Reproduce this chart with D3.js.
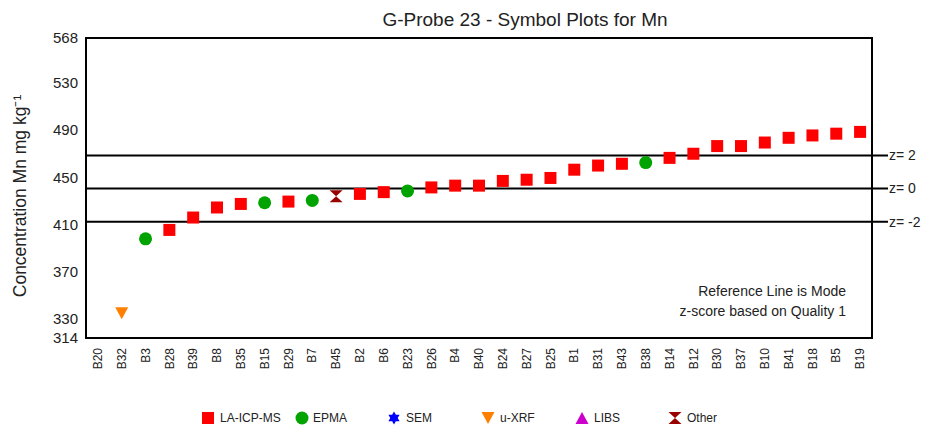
<!DOCTYPE html>
<html lang="en">

<head>
    <meta charset="UTF-8">
    <title>G-Probe 23 - Mn</title>
    <script src="https://d3js.org/d3.v7.min.js"></script>
    <style>
        body { margin: 0; background: #fff; }
        text { font-family: "Liberation Sans", Arial, sans-serif; fill: #222; }
    </style>
</head>

<body>
    <div id="container"></div>
    <script>
        // labs in plot order (sorted by result)
        var labs = ["B20", "B32", "B3", "B28", "B39", "B8", "B35", "B15", "B29", "B7", "B45",
            "B2", "B6", "B23", "B26", "B4", "B40", "B24", "B27", "B25", "B1", "B31", "B43",
            "B38", "B14", "B12", "B30", "B37", "B10", "B41", "B18", "B5", "B19"];
        // Mn results, mg/kg (B20 off scale / not plotted)
        var values = [null, 335, 398, 405.5, 416, 424.5, 427.5, 428.5, 429.5, 430.5, 434,
            436, 437.5, 438.5, 441.5, 443, 443, 447, 448, 449.5, 456.5, 460, 461.5,
            462.5, 466.5, 470, 476.5, 476.5, 479.5, 483.5, 485.5, 487, 488.5];
        var methods = [null, "u-XRF", "EPMA", "LA-ICP-MS", "LA-ICP-MS", "LA-ICP-MS", "LA-ICP-MS", "EPMA", "LA-ICP-MS", "EPMA", "Other",
            "LA-ICP-MS", "LA-ICP-MS", "EPMA", "LA-ICP-MS", "LA-ICP-MS", "LA-ICP-MS", "LA-ICP-MS", "LA-ICP-MS", "LA-ICP-MS", "LA-ICP-MS", "LA-ICP-MS", "LA-ICP-MS",
            "EPMA", "LA-ICP-MS", "LA-ICP-MS", "LA-ICP-MS", "LA-ICP-MS", "LA-ICP-MS", "LA-ICP-MS", "LA-ICP-MS", "LA-ICP-MS", "LA-ICP-MS"];
        var yTicks = [314, 330, 370, 410, 450, 490, 530, 568];
        var zLines = [{ label: "z= 2", value: 468.5 }, { label: "z= 0", value: 440.5 }, { label: "z= -2", value: 412.5 }];
        var legendNames = ["LA-ICP-MS", "EPMA", "SEM", "u-XRF", "LIBS", "Other"];
        var notes = ["Reference Line is Mode", "z-score based on Quality 1"];

        var colors = {
            "LA-ICP-MS": "#ff0000", "EPMA": "#00a300", "SEM": "#0000ff",
            "u-XRF": "#ff8000", "LIBS": "#cc00cc", "Other": "#990000"
        };

        // marker path for a method, centred on 0,0
        function marker(m) {
            var p = d3.path();
            if (m == "LA-ICP-MS") {
                p.rect(-6, -6, 12, 12);
            } else if (m == "EPMA") {
                p.arc(0, 0, 6.5, 0, 2 * Math.PI);
            } else if (m == "u-XRF") {
                p.moveTo(-6.5, -6); p.lineTo(6.5, -6); p.lineTo(0, 6); p.closePath();
            } else if (m == "LIBS") {
                p.moveTo(-6.5, 6); p.lineTo(6.5, 6); p.lineTo(0, -6); p.closePath();
            } else if (m == "Other") {
                p.moveTo(-6.5, -6); p.lineTo(6.5, -6); p.lineTo(0, 0); p.closePath();
                p.moveTo(-6.5, 6); p.lineTo(6.5, 6); p.lineTo(0, 0); p.closePath();
            } else if (m == "SEM") {
                // both triangles wound the same way so the star is filled
                p.moveTo(0, -6.5); p.lineTo(5.6, 3.25); p.lineTo(-5.6, 3.25); p.closePath();
                p.moveTo(0, 6.5); p.lineTo(-5.6, -3.25); p.lineTo(5.6, -3.25); p.closePath();
            }
            return p.toString();
        }

        var width = 927, height = 430;
        var margin = { top: 38, right: 55, bottom: 92, left: 86 };

        var svg = d3.select("#container")
            .append("svg")
            .attr("width", width)
            .attr("height", height);

        var x = d3.scaleBand()
            .domain(labs)
            .range([margin.left, width - margin.right]);

        var y = d3.scaleLinear()
            .domain([314, 568])
            .range([height - margin.bottom, margin.top]);

        svg.append("text")
            .attr("x", 525)
            .attr("y", 26)
            .attr("text-anchor", "middle")
            .attr("font-size", 19)
            .text("G-Probe 23 - Symbol Plots for Mn");

        // y axis, labels only
        var yAxis = svg.append("g")
            .attr("transform", "translate(" + margin.left + ",0)")
            .call(d3.axisLeft(y).tickValues(yTicks).tickSize(0).tickPadding(8).tickFormat(d3.format("d")));
        yAxis.select(".domain").remove();
        yAxis.selectAll("text").attr("font-size", 15).attr("font-family", "Liberation Sans, Arial, sans-serif");

        svg.append("text")
            .attr("transform", "translate(26,196) rotate(-90)")
            .attr("text-anchor", "middle")
            .attr("font-size", 17.5)
            .text("Concentration Mn mg kg\u207B\u00B9");

        // x axis, rotated lab codes
        var xAxis = svg.append("g")
            .attr("transform", "translate(0," + (height - margin.bottom) + ")")
            .call(d3.axisBottom(x).tickSize(0).tickPadding(0));
        xAxis.select(".domain").remove();
        xAxis.selectAll("text")
            .attr("font-size", 12)
            .attr("font-family", "Liberation Sans, Arial, sans-serif")
            .attr("text-anchor", "end")
            .attr("dy", "0.35em")
            .attr("transform", "translate(0,10) rotate(-90)");

        // z-score reference lines
        svg.selectAll(".zline")
            .data(zLines)
            .enter()
            .append("line")
            .attr("x1", margin.left)
            .attr("x2", 888)
            .attr("y1", (d) => y(d.value))
            .attr("y2", (d) => y(d.value))
            .attr("stroke", "#000")
            .attr("stroke-width", 2);

        svg.selectAll(".zlabel")
            .data(zLines)
            .enter()
            .append("text")
            .attr("x", 889)
            .attr("y", (d) => y(d.value))
            .attr("dy", "0.35em")
            .attr("font-size", 14)
            .text((d) => d.label);

        // plot frame
        svg.append("rect")
            .attr("x", margin.left)
            .attr("y", margin.top)
            .attr("width", width - margin.left - margin.right)
            .attr("height", height - margin.top - margin.bottom)
            .attr("fill", "none")
            .attr("stroke", "#000")
            .attr("stroke-width", 2);

        svg.selectAll(".note")
            .data(notes)
            .enter()
            .append("text")
            .attr("x", 846)
            .attr("y", (d, i) => 296 + i * 20)
            .attr("text-anchor", "end")
            .attr("font-size", 14)
            .text((d) => d);

        var pts = labs.map((l, i) => ({ lab: l, value: values[i], method: methods[i] }))
            .filter((d) => d.value != null);

        svg.selectAll(".pt")
            .data(pts)
            .enter()
            .append("path")
            .attr("d", (d) => marker(d.method))
            .attr("transform", (d) => "translate(" + (x(d.lab) + x.bandwidth() / 2) + "," + y(d.value) + ")")
            .attr("fill", (d) => colors[d.method]);

        // legend
        var legendX = [208, 302, 394, 488, 582, 675];
        var leg = svg.selectAll(".leg")
            .data(legendNames)
            .enter()
            .append("g")
            .attr("transform", (d, i) => "translate(" + legendX[i] + ",418)");
        leg.append("path")
            .attr("d", (d) => marker(d))
            .attr("fill", (d) => colors[d]);
        leg.append("text")
            .attr("x", (d) => d == "EPMA" ? 11 : 12)
            .attr("dy", "0.35em")
            .attr("font-size", 12)
            .text((d) => d);
    </script>
</body>

</html>
